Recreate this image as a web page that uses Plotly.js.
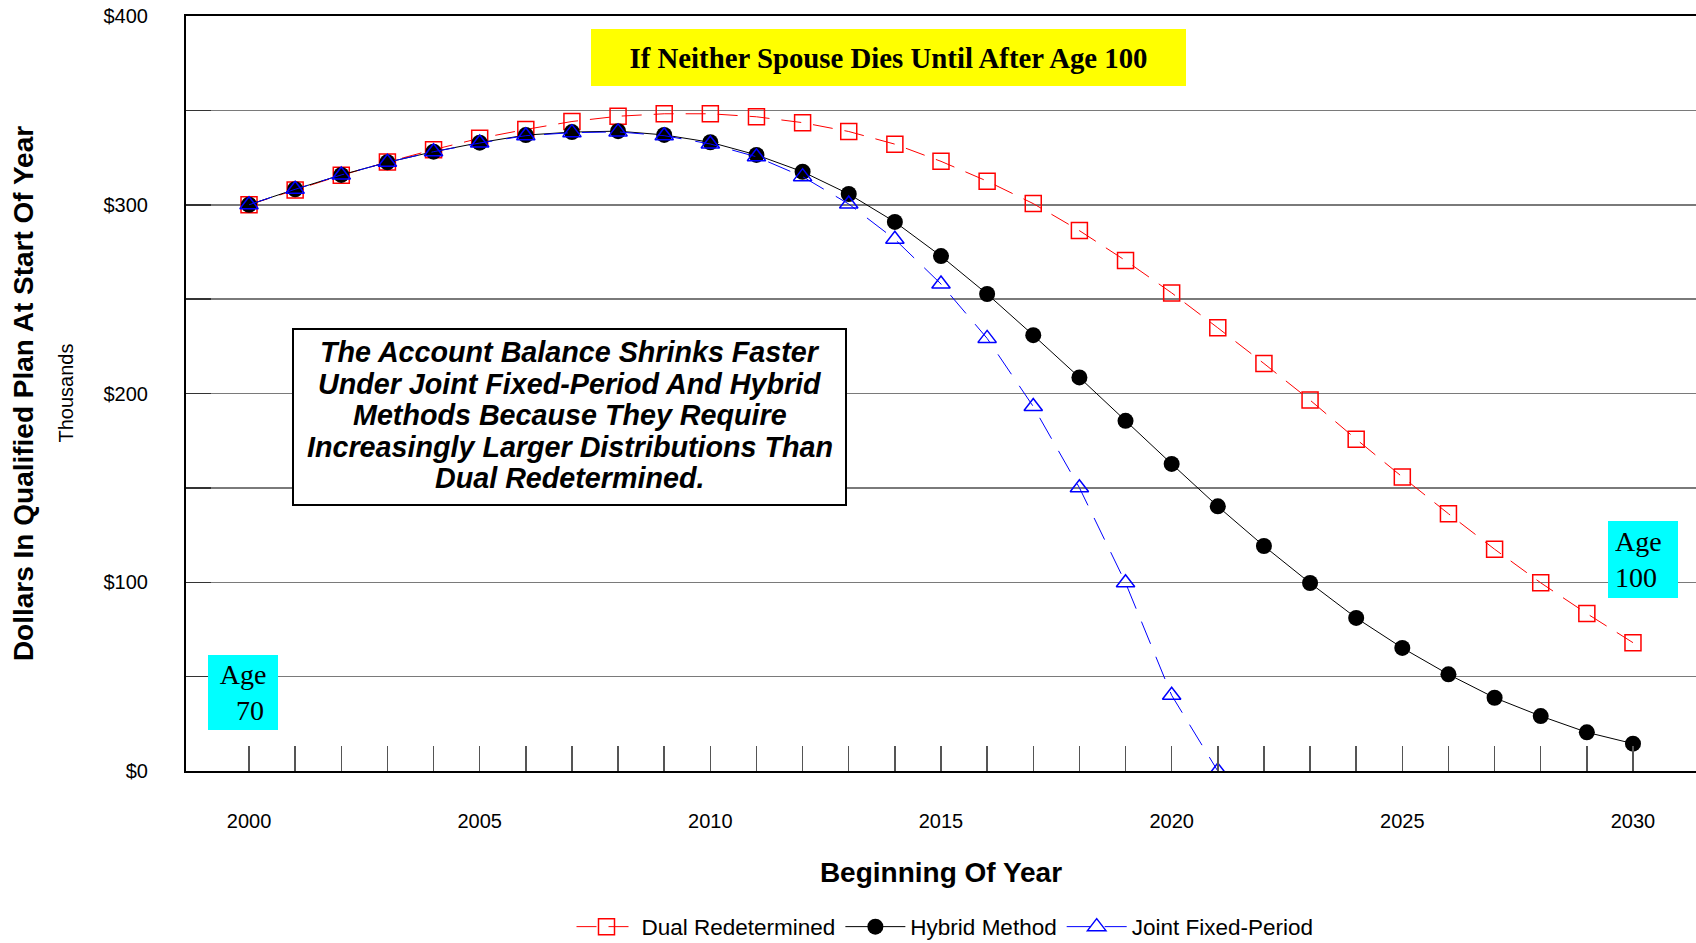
<!DOCTYPE html>
<html>
<head>
<meta charset="utf-8">
<script src="https://cdn.plot.ly/plotly-3.0.1.min.js"></script>
<style>
  html, body { margin: 0; padding: 0; background: #ffffff; }
  #chart { width: 1696px; height: 943px; }
</style>
</head>
<body>
<div id="chart"></div>
<script>
// ---- Data (values in thousands of dollars) ----
const years = [2000, 2001, 2002, 2003, 2004, 2005, 2006, 2007, 2008, 2009,
               2010, 2011, 2012, 2013, 2014, 2015, 2016, 2017, 2018, 2019,
               2020, 2021, 2022, 2023, 2024, 2025, 2026, 2027, 2028, 2029, 2030];

const dualRedetermined = [300.0, 307.8, 315.6, 322.6, 329.2, 335.2, 339.9, 344.1, 346.9, 348.2,
                          348.2, 346.6, 343.5, 338.8, 332.1, 323.0, 312.5, 300.6, 286.3, 270.4,
                          253.3, 234.8, 215.9, 196.5, 175.8, 155.8, 136.3, 117.5, 99.7, 83.4, 68.0];

const hybridMethod = [300.0, 308.2, 315.8, 322.5, 328.1, 332.9, 336.9, 338.5, 339.0, 337.0,
                      333.1, 326.4, 317.5, 305.7, 290.9, 272.8, 252.7, 230.9, 208.5, 185.5,
                      162.7, 140.2, 119.2, 99.6, 81.1, 65.2, 51.2, 38.8, 29.1, 20.5, 14.5];

const jointYears = [2000, 2001, 2002, 2003, 2004, 2005, 2006, 2007, 2008, 2009, 2010,
                    2011, 2012, 2013, 2014, 2015, 2016, 2017, 2018, 2019, 2020, 2021];
const jointFixedPeriod = [300.0, 308.2, 315.8, 322.5, 328.1, 332.7, 336.6, 338.2, 338.6, 336.6, 332.2,
                          325.4, 314.9, 300.4, 281.7, 258.0, 229.2, 193.1, 150.1, 99.7, 40.1, 0.0];

const seriesNames = ["Dual Redetermined", "Hybrid Method", "Joint Fixed-Period"];

const yTickVals = [0, 50, 100, 150, 200, 250, 300, 350, 400];
const yTickText = ["$0", "", "$100", "", "$200", "", "$300", "", "$400"];

const xTickVals = years;
const xTickText = years.map(y => (y % 5 === 0 ? String(y) : ""));

const titleText = "If Neither Spouse Dies Until After Age 100";
const noteLines = [
  "The Account Balance Shrinks Faster",
  "Under Joint Fixed-Period And Hybrid",
  "Methods Because They Require",
  "Increasingly Larger Distributions Than",
  "Dual Redetermined."
];

// ---- Chart ----
const SANS = "Liberation Sans, Arial, sans-serif";
const SERIF = "Liberation Serif, Times New Roman, serif";

const traces = [
  {
    x: years, y: dualRedetermined, name: seriesNames[0], type: "scatter", mode: "lines+markers",
    line: { color: "#ff0000", width: 1, dash: "20px,12px" },
    marker: { symbol: "square-open", size: 16, color: "#ff0000", line: { color: "#ff0000", width: 1.5 } }
  },
  {
    x: years, y: hybridMethod, name: seriesNames[1], type: "scatter", mode: "lines+markers",
    line: { color: "#000000", width: 1 },
    marker: { symbol: "circle", size: 16, color: "#000000" }
  },
  {
    x: jointYears, y: jointFixedPeriod, name: seriesNames[2], type: "scatter", mode: "lines+markers",
    line: { color: "#0000ff", width: 1, dash: "24px,14px" },
    marker: { symbol: "triangle-up-open", size: 16, color: "#0000ff", line: { color: "#0000ff", width: 1.5 } }
  }
];

const W = 1696, H = 943;
const mL = 186, mR = 0, mT = 16, mB = 172;
const pw = W - mL - mR, ph = H - mT - mB;
const px = v => (v - mL) / pw;          // pixel x -> paper
const py = v => (H - mB - v) / ph;      // pixel y -> paper

const annotations = [
  {
    text: "<b>" + titleText + "</b>", xref: "paper", yref: "paper",
    x: px(888.5), y: py(57.5), xanchor: "center", yanchor: "middle",
    showarrow: false, bgcolor: "#ffff00", width: 595, height: 57, borderpad: 0, borderwidth: 0,
    font: { family: SERIF, size: 28.8, color: "#000000" }
  },
  {
    text: "Age<br>\u00a0\u00a070", xref: "paper", yref: "paper",
    x: px(243), y: py(692.5), xanchor: "center", yanchor: "middle", align: "center",
    showarrow: false, bgcolor: "#00ffff", width: 70, height: 75, borderpad: 0, borderwidth: 0,
    font: { family: SERIF, size: 28, color: "#000000" }
  },
  {
    text: "Age<br>100", xref: "paper", yref: "paper",
    x: px(1643), y: py(559.5), xanchor: "center", yanchor: "middle", align: "left",
    showarrow: false, bgcolor: "#00ffff", width: 56, height: 63, borderpad: 7, borderwidth: 0,
    font: { family: SERIF, size: 28, color: "#000000" }
  },
  {
    text: "Thousands", xref: "paper", yref: "paper",
    x: px(65), y: 0.5, xanchor: "center", yanchor: "middle", textangle: -90,
    showarrow: false, font: { family: SANS, size: 20, color: "#000000" }
  }
];

const lineCenters = [352, 383.6, 415.2, 446.8, 478.3];
noteLines.forEach((t, i) => {
  annotations.push({
    text: "<b><i>" + t + "</i></b>", xref: "paper", yref: "paper",
    x: px(569.5), y: py(lineCenters[i]), xanchor: "center", yanchor: "middle",
    showarrow: false, font: { family: SANS, size: 28.7, color: "#000000" }
  });
});

const layout = {
  width: W, height: H,
  margin: { l: mL, r: mR, t: mT, b: mB, pad: 0, autoexpand: false },
  paper_bgcolor: "#ffffff", plot_bgcolor: "#ffffff",
  font: { family: SANS, color: "#000000" },
  showlegend: true,
  legend: {
    orientation: "h", xref: "paper", x: px(945), xanchor: "center",
    yref: "container", y: (H - 927) / H, yanchor: "middle",
    font: { family: SANS, size: 22.5, color: "#000000" }, itemwidth: 60,
    bgcolor: "rgba(0,0,0,0)", traceorder: "normal"
  },
  xaxis: {
    range: [1998.634, 2031.366], tickmode: "array", tickvals: xTickVals, ticktext: xTickText,
    ticks: "inside", ticklen: 25, tickwidth: 1.5, tickcolor: "#555555",
    showgrid: false, zeroline: false, automargin: false,
    showline: true, linecolor: "#000000", linewidth: 2, mirror: true,
    ticklabelstandoff: 31,
    tickfont: { family: SANS, size: 20, color: "#000000" },
    title: { text: "<b>Beginning Of Year</b>", font: { family: SANS, size: 28, color: "#000000" }, standoff: 31 }
  },
  yaxis: {
    range: [0, 400], tickmode: "array", tickvals: yTickVals, ticktext: yTickText,
    ticks: "inside", ticklen: 25, tickwidth: 1.5, tickcolor: "#333333",
    showgrid: true, gridcolor: "#7a7a7a", gridwidth: 1.5, zeroline: false, automargin: false,
    showline: true, linecolor: "#000000", linewidth: 2,
    ticklabelstandoff: 32,
    tickfont: { family: SANS, size: 20, color: "#000000" },
    title: { text: "<b>Dollars In Qualified Plan At Start Of Year</b>", font: { family: SANS, size: 28, color: "#000000" }, standoff: 62 }
  },
  shapes: [
    {
      type: "rect", xref: "paper", yref: "paper", layer: "above",
      x0: px(293), x1: px(846), y0: py(505), y1: py(329),
      line: { color: "#000000", width: 2 }, fillcolor: "#ffffff"
    }
  ],
  annotations: annotations
};

Plotly.newPlot("chart", traces, layout, { staticPlot: true, displayModeBar: false });
</script>
</body>
</html>
